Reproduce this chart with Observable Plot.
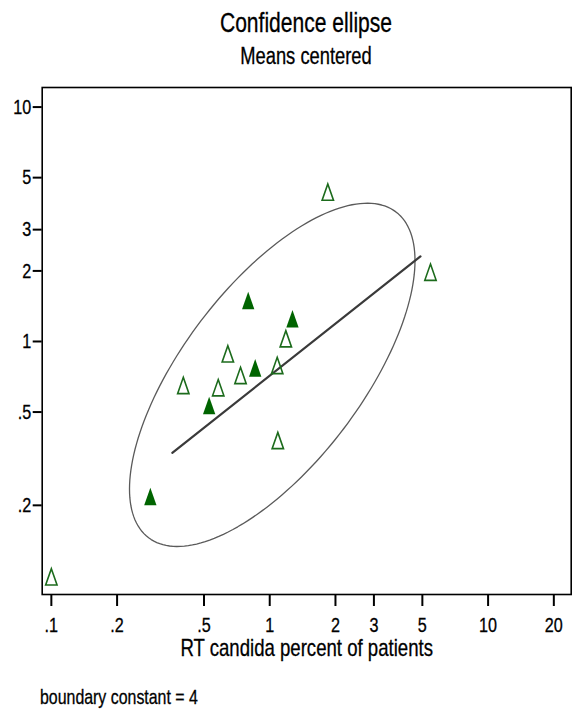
<!DOCTYPE html>
<html>
<head>
<meta charset="utf-8">
<script src="https://cdn.jsdelivr.net/npm/d3@7"></script>
<script src="https://cdn.jsdelivr.net/npm/@observablehq/plot@0.6"></script>
<style>
  html, body { margin: 0; padding: 0; background: #fff; }
  body { width: 584px; height: 713px; position: relative; overflow: hidden;
         font-family: "Liberation Sans", Arial, sans-serif; color: #000; }
  .t { position: absolute; white-space: nowrap; line-height: 1; -webkit-text-stroke: 0.3px #000; }
  #title { left: 306px; top: 10px; font-size: 27px; transform: translateX(-50%) scaleX(0.78); }
  #subtitle { left: 306px; top: 45px; font-size: 23.5px; transform: translateX(-50%) scaleX(0.78); }
  #caption { left: 40px; top: 687px; font-size: 20.4px; transform-origin: 0 0; transform: scaleX(0.78); }
  #chart { position: absolute; left: 0; top: 78px; }
</style>
</head>
<body>
<div id="title" class="t">Confidence ellipse</div>
<div id="subtitle" class="t">Means centered</div>
<div id="chart"></div>
<div id="caption" class="t">boundary constant = 4</div>
<script>
// ---- data ----
const filledX = [0.797, 1.271, 0.858, 0.528, 0.284];
const filledY = [1.496, 1.250, 0.772, 0.533, 0.218];
const hollowX = [1.845, 5.447, 1.185, 0.643, 1.082, 0.735, 0.402, 0.581, 1.089, 0.100];
const hollowY = [4.335, 1.975, 1.027, 0.886, 0.790, 0.716, 0.649, 0.635, 0.378, 0.099];
const fitLineX = [0.358, 4.90];
const fitLineY = [0.335, 2.305];
// ellipse (in log10 space): centre, half extents (decades), phase between x and y
const ellipseCenter = [1.027, 0.7206];
const ellipseHalfExtent = [0.6537, 0.7322];
const ellipsePhase = 0.843;
const xTicks = [0.1, 0.2, 0.5, 1, 2, 3, 5, 10, 20];
const xTickLabels = [".1", ".2", ".5", "1", "2", "3", "5", "10", "20"];
const yTicks = [0.2, 0.5, 1, 2, 3, 5, 10];
const yTickLabels = [".2", ".5", "1", "2", "3", "5", "10"];
const xLabel = "RT candida percent of patients";

// ---- build tables ----
const filled = filledX.map((x, i) => ({x, y: filledY[i]}));
const hollow = hollowX.map((x, i) => ({x, y: hollowY[i]}));
const fitLine = fitLineX.map((x, i) => ({x, y: fitLineY[i]}));
const ellipse = d3.range(0, 180).map(k => {
  const t = (k / 180) * 2 * Math.PI;
  return {
    x: Math.pow(10, Math.log10(ellipseCenter[0]) + ellipseHalfExtent[0] * Math.cos(t)),
    y: Math.pow(10, Math.log10(ellipseCenter[1]) + ellipseHalfExtent[1] * Math.cos(t - ellipsePhase))
  };
});

// tall triangle symbol (reference is horizontally compressed)
const tallTriangle = {
  draw(context, size) {
    const r = Math.sqrt(size / Math.PI);
    const h = r * 2.2, w = h * 0.7;
    context.moveTo(0, -h / 2);
    context.lineTo(w / 2, h / 2);
    context.lineTo(-w / 2, h / 2);
    context.closePath();
  }
};

const chart = Plot.plot({
  width: 584,
  height: 590,
  marginLeft: 41.7,
  marginRight: 13.3,
  marginTop: 9,
  marginBottom: 74,
  style: {fontFamily: '"Liberation Sans", Arial, sans-serif', fontSize: "19px", color: "#000", background: "#fff", overflow: "visible"},
  x: {type: "log", domain: [0.0908, 24.02]},
  y: {type: "log", domain: [0.0833, 12.12]},
  marks: [
    Plot.line(ellipse, {x: "x", y: "y", stroke: "#5a5a5a", strokeWidth: 1.3, curve: "linear-closed"}),
    Plot.line(fitLine, {x: "x", y: "y", stroke: "#3a3a3a", strokeWidth: 2.2}),
    Plot.dot(hollow, {x: "x", y: "y", symbol: tallTriangle, r: 7.4, fill: "none", stroke: "#1c6b1c", strokeWidth: 1.6}),
    Plot.dot(filled, {x: "x", y: "y", symbol: tallTriangle, r: 8, fill: "#006400", stroke: "none"}),
    Plot.frame({stroke: "#000", strokeWidth: 1.6}),
    Plot.axisX({ticks: xTicks, tickFormat: d => xTickLabels[xTicks.indexOf(d)], tickSize: 12, tickPadding: 11,
                strokeWidth: 2, fontSize: 21, label: null}),
    Plot.axisX({ticks: [], label: xLabel, labelAnchor: "center", labelArrow: "none", labelOffset: 61.5, fontSize: 24}),
    Plot.axisY({ticks: yTicks, tickFormat: d => yTickLabels[yTicks.indexOf(d)], tickSize: 9, tickPadding: 2,
                strokeWidth: 2, fontSize: 21, label: null})
  ]
});
document.getElementById("chart").appendChild(chart);

// styling pass: compress text horizontally like the reference, slightly heavier glyphs
chart.querySelectorAll("text").forEach(el => {
  const isLabel = el.textContent === xLabel;
  const s = isLabel ? 0.775 : 0.77;
  el.style.fontSize = isLabel ? "24px" : "21px";
  el.style.stroke = "#000";
  el.style.strokeWidth = "0.3px";
  const tr = el.getAttribute("transform");
  if (tr) el.setAttribute("transform", tr + ` scale(${s},1)`);
  else {
    const x = +el.getAttribute("x") || 0;
    el.setAttribute("transform", `translate(${x},0) scale(${s},1) translate(${-x},0)`);
  }
});
chart.querySelectorAll('g[aria-label$="tick"]').forEach(g => { g.style.strokeWidth = "2px"; });
</script>
</body>
</html>
